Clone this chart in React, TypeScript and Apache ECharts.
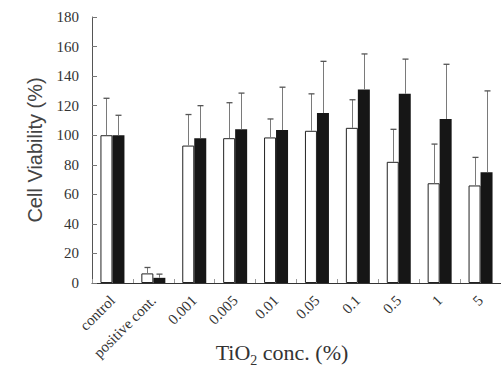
import React, { useEffect, useRef } from "react";
import * as echarts from "echarts";

const categories = ["control", "positive cont.", "0.001", "0.005", "0.01", "0.05", "0.1", "0.5", "1", "5"];
const whiteMeans = [100, 6.5, 93, 98, 98.5, 103, 105, 82, 67.5, 66];
const whiteSD = [25, 4, 21, 24, 12.5, 25, 19, 22, 26.5, 19];
const blackMeans = [100, 3.5, 98, 104, 103.5, 115, 131, 128, 111, 75];
const blackSD = [13.5, 2.5, 22, 24.5, 29, 35, 24, 23.5, 37, 55];
const yMin = 0;
const yMax = 180;
const yStep = 20;

const BAR_W = 12;

function errorSeries(means: number[], sds: number[], offset: number, name: string) {
  return {
    type: "custom",
    name,
    data: means.map((m, i) => [i, m, m + sds[i]]),
    encode: { x: 0, y: [1, 2] },
    z: 3,
    renderItem: (_params: any, api: any) => {
      const base = api.coord([api.value(0), api.value(1)]);
      const top = api.coord([api.value(0), api.value(2)]);
      const x = Math.round(base[0] + offset) + 0.5;
      return {
        type: "group",
        children: [
          {
            type: "line",
            shape: { x1: x, y1: base[1], x2: x, y2: top[1] },
            style: { stroke: "#7a7a7a", lineWidth: 1 },
          },
          {
            type: "line",
            shape: { x1: x - 3, y1: top[1], x2: x + 3, y2: top[1] },
            style: { stroke: "#555", lineWidth: 1.3 },
          },
        ],
      };
    },
  };
}

export default function App() {
  const ref = useRef<HTMLDivElement>(null);
  useEffect(() => {
    if (!ref.current) return;
    const chart = echarts.init(ref.current, undefined, { renderer: "svg" });
    chart.setOption({
      animation: false,
      backgroundColor: "#ffffff",
      grid: { left: 92, right: -2, top: 17, bottom: 87, containLabel: false },
      xAxis: {
        type: "category",
        data: categories,
        axisLine: { show: true, lineStyle: { color: "#333", width: 1 } },
        axisTick: { show: true, inside: true, length: 4, lineStyle: { color: "#999" } },
        axisLabel: {
          interval: 0,
          rotate: 45,
          fontFamily: "Liberation Serif",
          fontSize: 15,
          color: "#333",
          margin: 15,
        },
        splitLine: { show: false },
      },
      yAxis: {
        type: "value",
        min: yMin,
        max: yMax,
        interval: yStep,
        name: "Cell Viability (%)",
        nameLocation: "middle",
        nameGap: 47,
        nameTextStyle: { fontFamily: "Liberation Sans", fontSize: 20, color: "#444" },
        axisLine: { show: true, lineStyle: { color: "#555", width: 1 } },
        axisTick: { show: true, inside: true, length: 5, lineStyle: { color: "#777" } },
        axisLabel: { fontFamily: "Liberation Serif", fontSize: 15, color: "#333", margin: 13 },
        splitLine: { show: false },
      },
      graphic: [
        {
          type: "text",
          x: 282,
          y: 352,
          style: {
            text: "{a|TiO}{s|2}{a| conc. (%)}",
            align: "center",
            verticalAlign: "middle",
            fill: "#333",
            rich: {
              a: { fontFamily: "Liberation Serif", fontSize: 22, lineHeight: 26, verticalAlign: "middle", fill: "#333" },
              s: { fontFamily: "Liberation Serif", fontSize: 14, lineHeight: 14, padding: [16, 0, 0, 0], verticalAlign: "middle", fill: "#333" },
            },
          },
        },
      ],
      series: [
        {
          type: "bar",
          name: "white",
          data: whiteMeans,
          barWidth: BAR_W,
          barGap: "0%",
          itemStyle: { color: "#ffffff", borderColor: "#222", borderWidth: 1 },
          z: 2,
        },
        {
          type: "bar",
          name: "black",
          data: blackMeans,
          barWidth: BAR_W,
          barGap: "0%",
          itemStyle: { color: "#161616", borderColor: "#161616", borderWidth: 0 },
          z: 2,
        },
        errorSeries(whiteMeans, whiteSD, -BAR_W / 2, "white error"),
        errorSeries(blackMeans, blackSD, BAR_W / 2, "black error"),
      ],
    });
    return () => chart.dispose();
  }, []);
  return (
    <div
      ref={ref}
      style={{ position: "absolute", left: 0, top: 0, width: 501, height: 370, background: "#fff" }}
    />
  );
}
